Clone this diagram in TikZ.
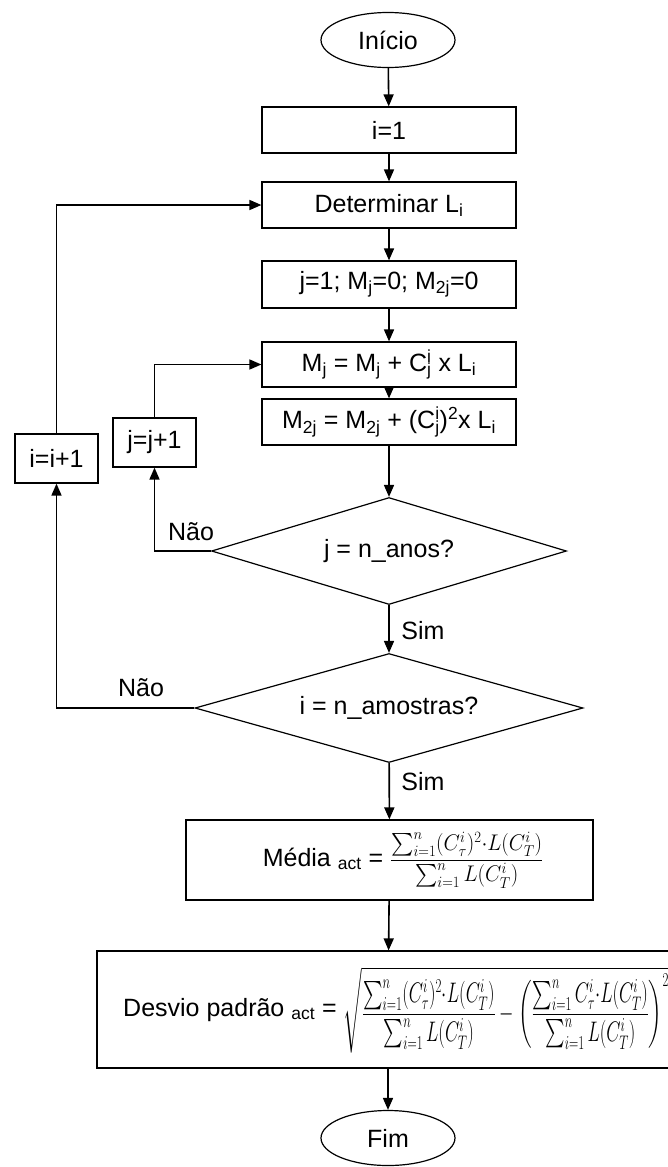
\documentclass[tikz,border=0pt]{standalone}
\usepackage[no-math]{fontspec}
\setmainfont{Liberation Sans}
\usepackage{amsmath}
\usepackage{graphicx}
\usetikzlibrary{shapes.geometric,arrows.meta}
\newcommand\SupSub[2]{\rlap{\textsuperscript{#1}}\textsubscript{#2}}
\newcommand\VC[1]{$\vcenter{\hbox{#1}}$}
\begin{document}
\begin{tikzpicture}[x=1pt,y=-1pt,
  font=\fontsize{25}{30}\selectfont,
  box/.style={draw,line width=1.2pt,inner sep=0pt,minimum width=254pt,minimum height=46pt},
  sbox/.style={draw,line width=1.2pt,inner sep=0pt,minimum width=83pt,minimum height=49pt},
  term/.style={draw,ellipse,line width=1.2pt,inner sep=0pt,minimum width=134pt,minimum height=55pt},
  dec/.style={draw,diamond,line width=1.2pt,inner sep=0pt},
  arr/.style={line width=1.6pt,-{Triangle[length=12pt,width=10pt]}},
  lab/.style={inner sep=0pt}]
\fill[white] (0,0) rectangle (668,1167);
\useasboundingbox (0,0) rectangle (668,1167);

\node[term] (start) at (388,40) {Início};
\node[box] (i1) at (389,130) {i=1};
\node[box] (det) at (389,205) {Determinar L\textsubscript{i}};
\node[box,minimum height=47pt] (j1) at (389,284.5) {j=1; M\textsubscript{j}=0; M\textsubscript{2j}=0};
\node[box,minimum height=45pt] (mj) at (389,364.5) {M\textsubscript{j} = M\textsubscript{j} + C\SupSub{i}{j} x L\textsubscript{i}};
\node[box] (m2j) at (389,422) {M\textsubscript{2j} = M\textsubscript{2j} + (C\SupSub{i}{j})\textsuperscript{2}x L\textsubscript{i}};
\node[dec,minimum width=355pt,minimum height=107pt,shape aspect=3.3] (dj) at (389,551) {j = n\_anos?};
\node[dec,minimum width=388pt,minimum height=109pt,shape aspect=3.56] (di) at (389,708) {i = n\_amostras?};
\node[sbox] (ii) at (56.5,458.5) {i=i+1};
\node[sbox] (jj) at (154.5,442.5) {j=j+1};
\node[box,minimum width=407pt,minimum height=80pt] (media) at (389.5,860) {};
\node[lab] (mediatxt) at (403,860) {Média \textsubscript{act} = \VC{\resizebox*{153pt}{56pt}{$\dfrac{\sum_{i=1}^{n}(C_{\tau}^{i})^{2}{\cdot}L(C_{T}^{i})}{\sum_{i=1}^{n}L(C_{T}^{i})}$}}};
\node[box,minimum width=582pt,minimum height=117pt] (desvio) at (388,1009.5) {};
\node[lab] (desviotxt) at (396,1010) {Desvio padrão \textsubscript{act} = \VC{\resizebox*{325pt}{86pt}{$\sqrt{\dfrac{\sum_{i=1}^{n}(C_{\tau}^{i})^{2}{\cdot}L(C_{T}^{i})}{\sum_{i=1}^{n}L(C_{T}^{i})}-\left(\dfrac{\sum_{i=1}^{n}C_{\tau}^{i}{\cdot}L(C_{T}^{i})}{\sum_{i=1}^{n}L(C_{T}^{i})}\right)^{2}}$}}};
\node[term] (fim) at (388,1138) {Fim};

\draw[arr] (start) -- (i1);
\draw[arr] (i1) -- (det);
\draw[arr] (det) -- (j1);
\draw[arr] (j1) -- (mj);
\draw[arr] (mj) -- (m2j);
\draw[arr] (m2j) -- (dj);
\draw[arr] (dj) -- (di);
\draw[arr] (di) -- (media);
\draw[arr] (media) -- (desvio);
\draw[arr] (desvio) -- (fim);

\draw[arr] (dj.west) -| (jj.south);
\draw[arr] (jj.north) |- (mj.west);
\draw[arr] (di.west) -| (ii.south);
\draw[arr] (ii.north) |- (det.west);

\node[lab] (nao1) at (191,532) {Não};
\node[lab] (nao2) at (141,688) {Não};
\node[lab] (sim1) at (423,631) {Sim};
\node[lab] (sim2) at (423,782) {Sim};
\end{tikzpicture}
\end{document}
